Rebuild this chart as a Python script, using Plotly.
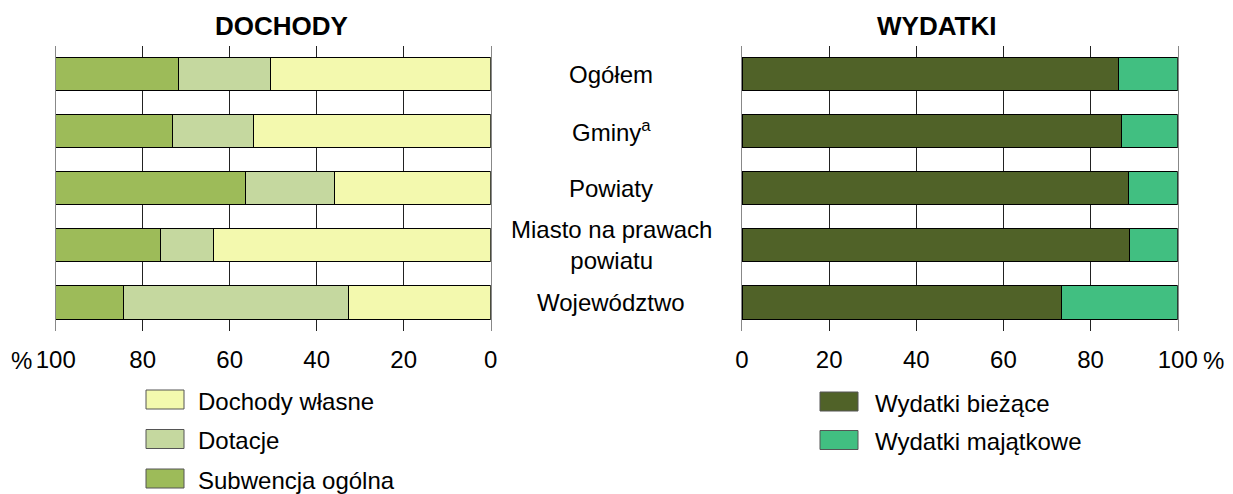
import plotly.graph_objects as go
from plotly.subplots import make_subplots

categories = ["Ogółem", "Gminy", "Powiaty", "Miasto na prawach powiatu", "Województwo"]
category_labels = ["Ogółem", "Gminy<sup>a</sup>", "Powiaty", "Miasto na prawach<br>powiatu", "Województwo"]

# DOCHODY (%)
dochody_wlasne = [50.7, 54.5, 35.8, 63.7, 32.7]
dotacje = [21.1, 18.6, 20.6, 12.3, 51.6]
subwencja_ogolna = [28.2, 26.9, 43.6, 24.0, 15.7]

# WYDATKI (%)
wydatki_biezace = [86.4, 87.0, 88.6, 88.9, 73.3]
wydatki_majatkowe = [13.6, 13.0, 11.4, 11.1, 26.7]

tick_vals = [0, 20, 40, 60, 80, 100]
tick_text = ["0", "20", "40", "60", "80", "100"]

FONT = "Liberation Sans, Arial, sans-serif"
FS = 24
TFS = 26

left_series = [
    ("Dochody własne", dochody_wlasne, "#f3f9ae"),
    ("Dotacje", dotacje, "#c5d89f"),
    ("Subwencja ogólna", subwencja_ogolna, "#9dbb59"),
]
right_series = [
    ("Wydatki bieżące", wydatki_biezace, "#506228"),
    ("Wydatki majątkowe", wydatki_majatkowe, "#41bf81"),
]

fig = make_subplots(rows=1, cols=2)

for name, vals, col in left_series:
    fig.add_trace(go.Bar(y=categories, x=vals, name=name, orientation="h",
                         marker=dict(color=col, line=dict(color="#000000", width=1)),
                         showlegend=False), row=1, col=1)
for name, vals, col in right_series:
    fig.add_trace(go.Bar(y=categories, x=vals, name=name, orientation="h",
                         marker=dict(color=col, line=dict(color="#000000", width=1)),
                         showlegend=False), row=1, col=2)

W = 1233
H = 494
OFF = 8  # page body margin offset


def px(s):
    return (s - OFF) / W


def py(s):
    return 1 - (s - OFF) / H


ydom = [py(331), py(45.5)]

common_x = dict(tickvals=tick_vals, ticktext=tick_text, showgrid=True, gridcolor="#222222",
                gridwidth=1, zeroline=False, showline=False, ticks="outside", ticklen=7,
                tickcolor="rgba(0,0,0,0)", tickfont=dict(family=FONT, size=FS, color="#000"),
                fixedrange=True, automargin=False)
fig.update_xaxes(range=[100, 0], domain=[px(55.7), px(490.7)], row=1, col=1, **common_x)
fig.update_xaxes(range=[0, 100], domain=[px(742), px(1177.7)], row=1, col=2, **common_x)

common_y = dict(domain=ydom, categoryorder="array", categoryarray=categories[::-1],
                showticklabels=False, ticks="", showgrid=False, showline=True, mirror=True,
                linecolor="#888888", linewidth=1, zeroline=False, fixedrange=True,
                automargin=False)
fig.update_yaxes(row=1, col=1, **common_y)
fig.update_yaxes(row=1, col=2, **common_y)

fig.update_layout(barmode="stack", bargap=0.42, width=W, height=H, autosize=False,
                  margin=dict(l=0, r=0, t=0, b=0, pad=0), plot_bgcolor="white",
                  paper_bgcolor="white", showlegend=False,
                  font=dict(family=FONT, size=FS, color="#000"))

ann = []


def text_ann(text, x, y, size=FS, xanchor="center", xref="paper", yref="paper"):
    ann.append(dict(text=text, x=x, y=y, xref=xref, yref=yref, showarrow=False,
                    xanchor=xanchor, yanchor="middle", align="center",
                    font=dict(family=FONT, size=size, color="#000")))


text_ann("<b>DOCHODY</b>", px(281.7), py(26), size=TFS)
text_ann("<b>WYDATKI</b>", px(936.7), py(26), size=TFS)
for cat, lab in zip(categories, category_labels):
    text_ann(lab, px(611), cat, yref="y")
text_ann("%", px(21.7), py(360))
text_ann("%", px(1213), py(360))

shapes = []


def legend_items(items, bx, by0, tx, pitch):
    for i, (name, _, col) in enumerate(items):
        y0 = by0 + i * pitch
        shapes.append(dict(type="rect", xref="paper", yref="paper",
                           x0=px(bx), x1=px(bx + 38), y0=py(y0 + 19), y1=py(y0),
                           fillcolor=col, line=dict(color="#555555", width=1)))
        text_ann(name, px(tx), py(y0 + 11), xanchor="left")


legend_items(left_series, 146, 390, 195.5, 39.5)
legend_items(right_series, 820, 392, 872.5, 38.5)

fig.update_layout(annotations=ann, shapes=shapes)
fig.write_html("out.html")
